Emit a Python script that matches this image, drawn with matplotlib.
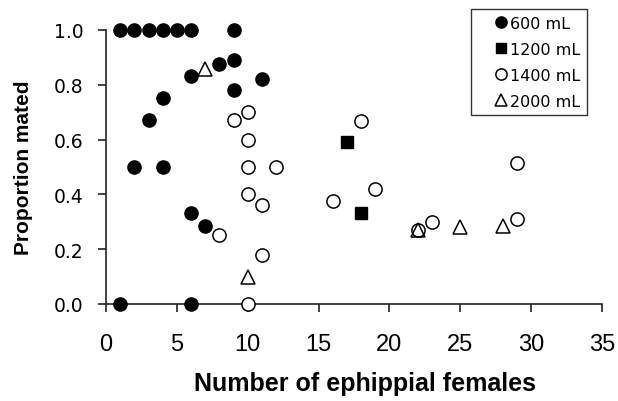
import matplotlib
matplotlib.use("Agg")
import matplotlib.pyplot as plt

plt.rcParams['font.family'] = ['Liberation Sans', 'DejaVu Sans']

# 600 mL
x600 = [1, 2, 3, 4, 5, 6, 9, 1, 6, 2, 4, 3, 4, 6, 8, 9, 9, 11, 6, 7]
y600 = [1.0, 1.0, 1.0, 1.0, 1.0, 1.0, 1.0, 0.0, 0.0, 0.5, 0.5, 0.67, 0.75,
        0.833, 0.875, 0.89, 0.78, 0.82, 0.333, 0.286]
# 1200 mL
x1200 = [17, 18]
y1200 = [0.59, 0.333]
# 1400 mL
x1400 = [9, 10, 10, 10, 12, 10, 11, 8, 11, 10, 16, 18, 19, 22, 23, 29, 29]
y1400 = [0.67, 0.70, 0.60, 0.50, 0.50, 0.40, 0.36, 0.25, 0.18, 0.0,
         0.375, 0.667, 0.42, 0.27, 0.30, 0.515, 0.31]
# 2000 mL
x2000 = [7, 10, 22, 25, 28]
y2000 = [0.857, 0.10, 0.27, 0.28, 0.285]

yticks = [0.0, 0.2, 0.4, 0.6, 0.8, 1.0]
ytick_labels = ['0.0', '0.2', '0.4', '0.6', '0.8', '1.0']

fig = plt.figure(figsize=(6.18, 4.02), dpi=100)
ax = fig.add_axes([0.1715, 0.2413, 0.8026, 0.6816])

ms = 9.5
ax.plot(x600, y600, 'o', color='black', ms=ms, clip_on=False, zorder=3, label='600 mL')
ax.plot(x1200, y1200, 's', color='black', ms=ms - 0.5, clip_on=False, zorder=3, label='1200 mL')
ax.plot(x1400, y1400, 'o', mfc='white', mec='black', mew=1.1, ms=ms, clip_on=False,
        zorder=3, label='1400 mL')
ax.plot(x2000, y2000, '^', mfc='none', mec='black', mew=1.1, ms=ms + 0.5, clip_on=False,
        zorder=4, label='2000 mL')

ax.set_xlim(0, 35)
ax.set_ylim(0, 1.0)
ax.set_xticks(range(0, 36, 5))
ax.set_yticks(yticks)
ax.set_yticklabels(ytick_labels, family='DejaVu Sans', fontsize=13.5)
for s in ['top', 'right']:
    ax.spines[s].set_visible(False)
for s in ['left', 'bottom']:
    ax.spines[s].set_linewidth(1.2)
    ax.spines[s].set_color('#222222')
ax.tick_params(axis='both', direction='out', length=6, width=1.2, color='#222222')
ax.tick_params(axis='x', labelsize=17, pad=15)
ax.tick_params(axis='y', pad=10)

ax.set_xlabel('Number of ephippial females', fontsize=18, fontweight='bold')
ax.xaxis.set_label_coords(0.522, -0.245)
ax.set_ylabel('Proportion mated', fontsize=15, fontweight='bold', labelpad=15)

leg = ax.legend(loc='upper right', bbox_to_anchor=(0.970, 1.077),
                prop={'family': 'DejaVu Sans', 'size': 11.5},
                frameon=True, fancybox=False, edgecolor='black', handlelength=2.9,
                handletextpad=-0.85, labelspacing=0.69, borderpad=0.42, markerscale=0.85,
                borderaxespad=0)
leg.get_frame().set_linewidth(1.0)

fig.savefig('out.png', dpi=100)
